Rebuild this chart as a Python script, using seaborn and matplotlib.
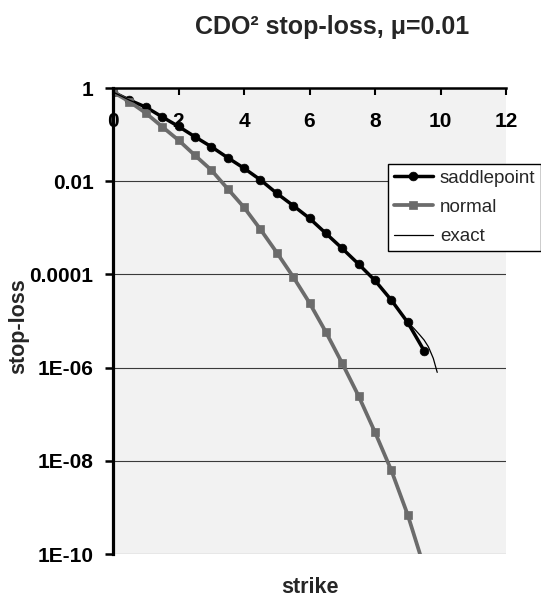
import matplotlib
matplotlib.use('Agg')
import matplotlib.pyplot as plt
import seaborn as sns
from matplotlib.ticker import FixedLocator, FixedFormatter, NullLocator

# values
strike = [0, 0.5, 1, 1.5, 2, 2.5, 3, 3.5, 4, 4.5, 5, 5.5, 6, 6.5, 7, 7.5, 8, 8.5, 9, 9.5]
saddlepoint = [0.82, 0.55, 0.39, 0.24, 0.15, 0.090, 0.055, 0.032, 0.019, 0.0107,
               0.0055, 0.0030, 0.0016, 7.6e-4, 3.6e-4, 1.66e-4, 7.4e-5, 2.8e-5, 9.3e-6, 2.3e-6]
normal = [0.82, 0.51, 0.29, 0.148, 0.076, 0.036, 0.0174, 0.0069, 0.00275, 9.3e-4,
          2.95e-4, 8.9e-5, 2.45e-5, 5.8e-6, 1.23e-6, 2.45e-7, 4.1e-8, 6.2e-9, 6.9e-10, 5.2e-11]
exact_strike = [0, 0.5, 1, 1.5, 2, 2.5, 3, 3.5, 4, 4.5, 5, 5.5, 6, 6.5, 7, 7.5, 8, 8.5, 9,
                9.2, 9.37, 9.5, 9.63, 9.78, 9.9]
exact = [0.82, 0.55, 0.39, 0.24, 0.15, 0.090, 0.055, 0.032, 0.019, 0.0107,
         0.0055, 0.0030, 0.0016, 7.6e-4, 3.6e-4, 1.66e-4, 7.4e-5, 2.8e-5, 9.5e-6,
         6.8e-6, 5.0e-6, 3.9e-6, 2.8e-6, 1.58e-6, 7.9e-7]

xticks = [0, 2, 4, 6, 8, 10, 12]
yticks = [1, 1e-2, 1e-4, 1e-6, 1e-8, 1e-10]
ytick_labels = ['1', '0.01', '0.0001', '1E-06', '1E-08', '1E-10']

sns.set_theme(style='white')
plt.rcParams['font.family'] = ['Liberation Sans', 'DejaVu Sans']

fig = plt.figure(figsize=(5.41, 5.97), dpi=100)
ax = fig.add_axes([113/541, 1-554/597, (506-113)/541, (554-88)/597])
ax.set_facecolor('#f2f2f2')

sns.lineplot(x=strike, y=saddlepoint, ax=ax, color='black', linewidth=2.5,
             marker='o', markersize=6.3, markeredgecolor='black', markeredgewidth=0.5,
             label='saddlepoint', sort=False)
sns.lineplot(x=strike, y=normal, ax=ax, color='#6b6b6b', linewidth=2.7,
             marker='s', markersize=5.7, markeredgecolor='#6b6b6b', markeredgewidth=0.5,
             label='normal', sort=False)
sns.lineplot(x=exact_strike, y=exact, ax=ax, color='black', linewidth=0.9,
             label='exact', sort=False)

ax.set_yscale('log')
ax.set_xlim(0, 12)
ax.set_ylim(1e-10, 1)

ax.xaxis.set_major_locator(FixedLocator(xticks))
ax.yaxis.set_major_locator(FixedLocator(yticks))
ax.yaxis.set_major_formatter(FixedFormatter(ytick_labels))
ax.yaxis.set_minor_locator(NullLocator())

# x axis crosses at the top (y=1), like the Excel original
ax.spines['bottom'].set_position(('data', 1))
ax.spines['top'].set_visible(False)
ax.spines['right'].set_visible(False)
ax.spines['bottom'].set_linewidth(1.8)
ax.spines['left'].set_linewidth(2.3)
ax.spines['bottom'].set_color('black')
ax.spines['left'].set_color('black')

ax.tick_params(axis='x', bottom=True, direction='out', length=5, width=1.5,
               labelsize=15, pad=12, colors='black')
ax.tick_params(axis='y', left=True, direction='out', length=6, width=1.8,
               labelsize=15, pad=8, colors='black')
for t in ax.get_xticklabels() + ax.get_yticklabels():
    t.set_fontweight('bold')

ax.grid(axis='y', color='#3a3a3a', linewidth=0.8)
ax.grid(axis='x', visible=False)

ax.set_title('CDO² stop-loss, μ=0.01', fontsize=18, fontweight='bold',
             x=0.557, pad=39)
ax.set_xlabel('strike', fontsize=15.5, fontweight='bold')
ax.set_ylabel('stop-loss', fontsize=15.5, fontweight='bold')
ax.xaxis.set_label_coords(0.5, -0.049)
ax.yaxis.set_label_coords(-0.212, 0.489)

leg = ax.legend(loc='upper right', bbox_to_anchor=(1.0, 1-164/597),
                bbox_transform=fig.transFigure, fontsize=13.5, frameon=True,
                fancybox=False, framealpha=1, edgecolor='black', borderaxespad=0,
                borderpad=0.3, handlelength=2.1, handletextpad=0.37, labelspacing=0.65)
leg.get_frame().set_linewidth(1.0)

fig.savefig('out.png', dpi=100)
